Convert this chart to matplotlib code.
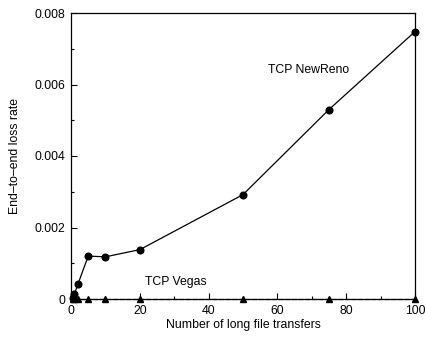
import matplotlib.pyplot as plt
from matplotlib.ticker import MultipleLocator, FuncFormatter

plt.rcParams['font.family'] = ['Liberation Sans', 'DejaVu Sans']
plt.rcParams['font.size'] = 8.8

transfers = [0.5, 1, 2, 5, 10, 20, 50, 75, 100]
newreno_loss = [0.00003, 0.00014, 0.00041, 0.00120, 0.00118, 0.00138, 0.00292, 0.00530, 0.00748]
vegas_loss = [0, 0, 0, 0, 0, 0, 0, 0, 0]

fig = plt.figure(figsize=(4.25, 3.39), dpi=100)
ax = fig.add_axes([71 / 425, 40 / 339, 344 / 425, 286 / 339])

ax.plot(transfers, newreno_loss, '-', color='black', lw=0.9,
        marker='o', ms=4.8, clip_on=False, zorder=3)
ax.plot(transfers, vegas_loss, '--', color='black', lw=0.9,
        marker='^', ms=4.8, clip_on=False, zorder=3)

ax.text(69, 0.0064, 'TCP NewReno', ha='center', va='center')
ax.text(30.5, 0.00048, 'TCP Vegas', ha='center', va='center')

ax.set_xlim(0, 100)
ax.set_ylim(0, 0.008)
ax.xaxis.set_major_locator(MultipleLocator(20))
ax.xaxis.set_minor_locator(MultipleLocator(10))
ax.yaxis.set_major_locator(MultipleLocator(0.002))
ax.yaxis.set_minor_locator(MultipleLocator(0.001))
ax.yaxis.set_major_formatter(FuncFormatter(lambda v, p: '0' if v == 0 else f'{v:.3f}'))
ax.tick_params(which='both', direction='in', top=False, right=False, width=0.8, pad=4)
ax.tick_params(which='major', length=4)
ax.tick_params(which='minor', length=2)
for s in ax.spines.values():
    s.set_linewidth(0.9)

ax.set_xlabel('Number of long file transfers', labelpad=2)
ax.set_ylabel('End\u2013to\u2013end loss rate', labelpad=10)

fig.savefig('out.png', dpi=100)
